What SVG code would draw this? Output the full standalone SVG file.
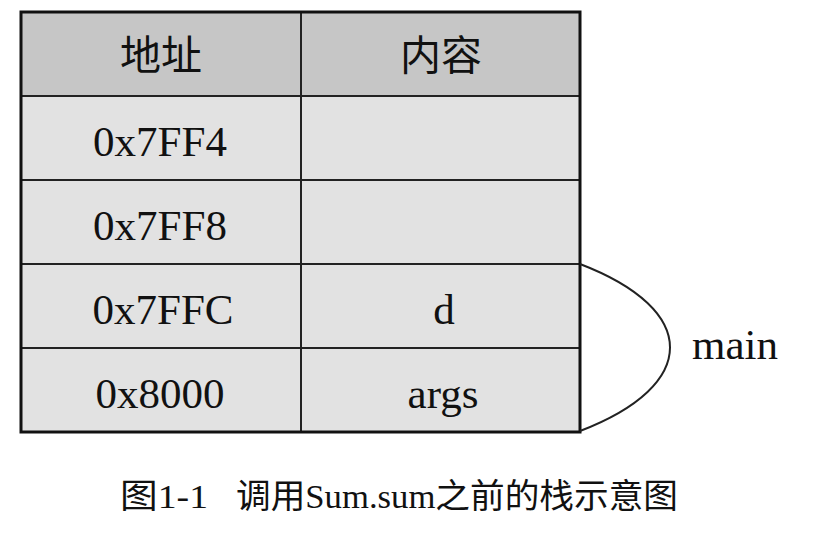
<svg xmlns="http://www.w3.org/2000/svg" width="832" height="541" viewBox="0 0 832 541">
<style>
.t{font-family:"Liberation Serif","Noto Sans CJK SC",serif;font-size:43px;fill:#111;text-anchor:middle}
.h{font-family:"Noto Sans CJK SC",serif;font-size:41px;fill:#111;text-anchor:middle}
.c{font-family:"Liberation Serif","Noto Sans CJK SC",serif;font-size:34px;fill:#111}
.hd{fill:#c6c6c6}
.rw{fill:#e2e2e2}
.ln{stroke:#222;stroke-width:2;fill:none}
</style>
<rect width="832" height="541" fill="#fff"/>
<g id="header">
<rect class="hd" x="21" y="12" width="559" height="84"/>
<text class="h" x="161" y="70">地址</text>
<text class="h" x="441" y="70">内容</text>
</g>
<g id="row1">
<rect class="rw" x="21" y="96" width="559" height="84"/>
<text class="t" x="160" y="156">0x7FF4</text>
</g>
<g id="row2">
<rect class="rw" x="21" y="180" width="559" height="84"/>
<text class="t" x="160" y="240">0x7FF8</text>
</g>
<g id="row3">
<rect class="rw" x="21" y="264" width="559" height="84"/>
<text class="t" x="163" y="324">0x7FFC</text>
<text class="t" x="444" y="324">d</text>
</g>
<g id="row4">
<rect class="rw" x="21" y="348" width="559" height="84"/>
<text class="t" x="160" y="408">0x8000</text>
<text class="t" x="443" y="408">args</text>
</g>
<g id="grid">
<line class="ln" x1="21" y1="96" x2="580" y2="96"/>
<line class="ln" x1="21" y1="180" x2="580" y2="180"/>
<line class="ln" x1="21" y1="264" x2="580" y2="264"/>
<line class="ln" x1="21" y1="348" x2="580" y2="348"/>
<line class="ln" x1="301" y1="12" x2="301" y2="432"/>
<rect x="21" y="12" width="559" height="420" fill="none" stroke="#111" stroke-width="3"/>
</g>
<g id="connectors">
<path class="ln" d="M580,264 C700,310 700,385 580,431"/>
</g>
<g id="main-label">
<text class="t" x="735" y="359">main</text>
</g>
<g id="caption">
<text class="c" x="120" y="508" textLength="88" lengthAdjust="spacingAndGlyphs">图1-1</text>
<text class="c" x="236" y="508" textLength="442" lengthAdjust="spacingAndGlyphs">调用Sum.sum之前的栈示意图</text>
</g>
</svg>
